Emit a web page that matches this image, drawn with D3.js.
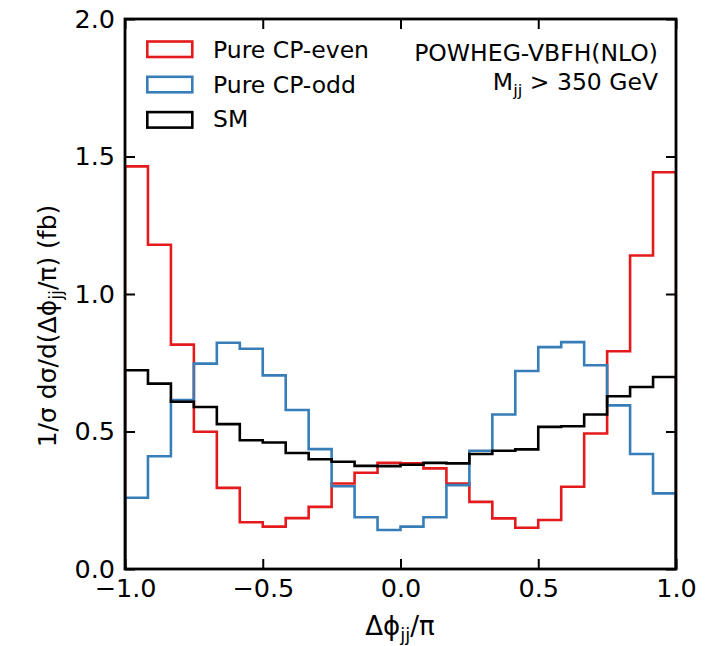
<!DOCTYPE html>
<html><head><meta charset="utf-8">
<script src="https://cdn.jsdelivr.net/npm/d3@7"></script>
<style>body{margin:0;background:#fff;} text{font-family:"DejaVu Sans",sans-serif;}</style>
</head><body>
<svg id="chart" width="711" height="646"></svg>
<script>
const binEdges = d3.range(25).map(i => -1 + i / 12);
const cpEven = [1.464,1.179,0.816,0.499,0.295,0.170,0.154,0.185,0.226,0.311,0.350,0.386,
                0.384,0.366,0.311,0.244,0.184,0.150,0.178,0.299,0.493,0.792,1.140,1.443];
const cpOdd  = [0.259,0.410,0.614,0.747,0.823,0.801,0.704,0.578,0.436,0.301,0.188,0.142,
                0.154,0.188,0.305,0.430,0.562,0.720,0.807,0.825,0.741,0.595,0.418,0.275];
const sm     = [0.723,0.674,0.608,0.589,0.527,0.468,0.460,0.422,0.399,0.390,0.375,0.374,
                0.379,0.386,0.384,0.418,0.430,0.435,0.517,0.519,0.562,0.628,0.662,0.698];
const seriesNames = ["Pure CP-even","Pure CP-odd","SM"];
const seriesColors = ["#e41a1c","#377eb8","#000000"];
const xTicks = [-1,-0.5,0,0.5,1];
const yTicks = [0,0.5,1,1.5,2];

const svg = d3.select("#chart");
const m = {l:125, t:19, w:551, h:550};
const x = d3.scaleLinear().domain([-1,1]).range([m.l, m.l+m.w]);
const y = d3.scaleLinear().domain([0,2]).range([m.t+m.h, m.t]);

function stepPath(vals){
  const pts = [[binEdges[0],0]];
  vals.forEach((v,i)=>{ pts.push([binEdges[i],v]); pts.push([binEdges[i+1],v]); });
  pts.push([binEdges[binEdges.length-1],0]);
  return d3.line().x(d=>x(d[0])).y(d=>y(d[1]))(pts);
}
svg.append("clipPath").attr("id","c").append("rect")
  .attr("x",m.l).attr("y",m.t).attr("width",m.w).attr("height",m.h);
const g = svg.append("g").attr("clip-path","url(#c)");
[cpEven,cpOdd,sm].forEach((vals,i)=>{
  g.append("path").attr("d",stepPath(vals)).attr("fill","none")
   .attr("stroke",seriesColors[i]).attr("stroke-width",2.6).attr("stroke-linejoin","miter");
});

const fmt = v => (v<0?"\u2212":"") + Math.abs(v).toFixed(1);
function styleAxis(sel){
  sel.selectAll("path").remove();
  sel.selectAll("line").attr("stroke","#000").attr("stroke-width",2);
  sel.selectAll("text").attr("font-size","25.5px").attr("fill","#000").attr("font-family","DejaVu Sans");
}
svg.append("g").attr("transform",`translate(0,${m.t+m.h})`)
  .call(d3.axisBottom(x).tickValues(xTicks).tickFormat(fmt).tickSizeInner(-10).tickSizeOuter(0).tickPadding(10))
  .call(styleAxis);
svg.append("g").attr("transform",`translate(0,${m.t})`)
  .call(d3.axisTop(x).tickValues(xTicks).tickFormat("").tickSizeInner(-10).tickSizeOuter(0))
  .call(styleAxis);
svg.append("g").attr("transform",`translate(${m.l},0)`)
  .call(d3.axisLeft(y).tickValues(yTicks).tickFormat(fmt).tickSizeInner(-10).tickSizeOuter(0).tickPadding(10))
  .call(styleAxis);
svg.append("g").attr("transform",`translate(${m.l+m.w},0)`)
  .call(d3.axisRight(y).tickValues(yTicks).tickFormat("").tickSizeInner(-10).tickSizeOuter(0))
  .call(styleAxis);

svg.append("rect").attr("x",m.l).attr("y",m.t).attr("width",m.w).attr("height",m.h)
  .attr("fill","none").attr("stroke","#000").attr("stroke-width",2.8);

// legend
seriesNames.forEach((n,i)=>{
  const yy = 41.5 + i*35.3;
  svg.append("rect").attr("x",147.3).attr("y",yy).attr("width",45).attr("height",15.5)
    .attr("fill","none").attr("stroke",seriesColors[i]).attr("stroke-width",2.6);
  svg.append("text").attr("x",213).attr("y",58 + i*34.5).attr("font-size","23.5px").text(n);
});

// annotation
svg.append("text").attr("x",658).attr("y",61).attr("text-anchor","end").attr("font-size","23.5px")
  .text("POWHEG-VBFH(NLO)");
const t2 = svg.append("text").attr("x",658).attr("y",90).attr("text-anchor","end").attr("font-size","23.5px");
t2.append("tspan").text("M");
t2.append("tspan").attr("font-size","16.5px").attr("dy",6).text("jj");
t2.append("tspan").attr("dy",-6).text(" > 350 GeV");

// x label
const xl = svg.append("text").attr("x",400).attr("y",635).attr("text-anchor","middle").attr("font-size","26px");
xl.append("tspan").text("\u0394\u03d5");
xl.append("tspan").attr("font-size","18px").attr("dy",6).text("jj");
xl.append("tspan").attr("dy",-6).text("/\u03c0");

// y label
const yl = svg.append("text").attr("transform","translate(56,326) rotate(-90)")
  .attr("text-anchor","middle").attr("font-size","25px");
yl.append("tspan").text("1/\u03c3 d\u03c3/d(\u0394\u03d5");
yl.append("tspan").attr("font-size","17.5px").attr("dy",6).text("jj");
yl.append("tspan").attr("dy",-6).text("/\u03c0) (fb)");
</script>
</body></html>
